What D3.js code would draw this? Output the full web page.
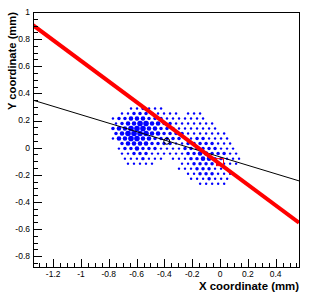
<!DOCTYPE html>
<html>
<head>
<meta charset="utf-8">
<script src="https://cdn.jsdelivr.net/npm/d3@7"></script>
<style>
  body { margin: 0; background: #fff; }
  text { font-family: "Liberation Sans", Arial, Helvetica, sans-serif; }
</style>
</head>
<body>
<svg id="chart" width="311" height="300"></svg>
<script>
// data (mm)
const xDomain = [-1.345, 0.568],
    yDomain = [-0.88, 1];
const xMajor = [-1.2, -1, -0.8, -0.6, -0.4, -0.2, 0, 0.2, 0.4],
    yMajor = [-0.8, -0.6, -0.4, -0.2, 0, 0.2, 0.4, 0.6, 0.8, 1];
const fitLine = [[-1.345, 0.903], [0.568, -0.553]];   // red
const trackLine = [[-1.345, 0.35], [0.568, -0.245]];  // black
const trackPoint = [-0.383, 0.047];
const fitPoint = [0, -0.107];
// pixel hits: each row has y, x of first hit, charge class per pixel (0 = empty)
const pixelPitch = 0.0432;
const hitRows = [
  {y: 0.289, x0: -0.640, s: [1,1,2,1,1,1]},
  {y: 0.252, x0: -0.705, s: [1,1,2,2,2,2,1,1,1,1,0,1,1,1]},
  {y: 0.215, x0: -0.770, s: [1,2,2,3,3,3,2,2,2,1,1,1,1,1,1,1]},
  {y: 0.178, x0: -0.748, s: [1,2,3,3,4,4,3,3,2,2,1,1,1,1,1,1,1]},
  {y: 0.141, x0: -0.770, s: [2,3,3,4,4,4,3,3,2,2,2,1,1,1,1,1,1,1]},
  {y: 0.104, x0: -0.748, s: [2,3,4,4,4,4,3,3,2,2,2,2,1,1,1,1,1,1,1]},
  {y: 0.067, x0: -0.770, s: [1,3,3,4,4,3,3,2,2,2,2,2,1,1,2,2,1,1,1,1]},
  {y: 0.030, x0: -0.705, s: [2,3,3,3,3,2,2,2,2,1,1,2,2,2,2,2,1,1,1]},
  {y: -0.007, x0: -0.727, s: [1,2,2,3,2,2,2,1,1,1,1,2,2,2,2,2,2,1,1,1]},
  {y: -0.044, x0: -0.705, s: [1,1,2,2,2,1,1,1,1,1,1,2,2,3,3,2,2,2,1,1]},
  {y: -0.081, x0: -0.684, s: [1,1,1,2,1,1,1,0,1,1,1,2,2,3,3,2,2,1,1,1]},
  {y: -0.118, x0: -0.662, s: [1,1,1,1,1,0,0,0,0,1,1,2,2,2,2,2,1,1,1]},
  {y: -0.155, x0: -0.295, s: [1,1,1,2,2,2,1,1,1]},
  {y: -0.192, x0: -0.230, s: [1,1,2,2,2,1,1,1]},
  {y: -0.229, x0: -0.208, s: [1,1,1,2,1,1,1]},
  {y: -0.266, x0: -0.143, s: [1,1,1,1,1]}
];

// layout
const svg = d3.select("#chart"),
    margin = {left: 33, right: 12, top: 12, bottom: 33},
    width = +svg.attr("width"),
    height = +svg.attr("height"),
    x0 = margin.left, x1 = width - margin.right,
    y0 = height - margin.bottom, y1 = margin.top;

const x = d3.scaleLinear().domain(xDomain).range([x0, x1]),
    y = d3.scaleLinear().domain(yDomain).range([y0, y1]),
    r = d3.scaleLinear().domain([1, 4]).range([1.2, 2.8]);

svg.append("defs").append("clipPath").attr("id", "frame-clip")
  .append("rect").attr("x", x0).attr("y", y1).attr("width", x1 - x0).attr("height", y0 - y1);

const plot = svg.append("g").attr("clip-path", "url(#frame-clip)");

// hits
const hits = [];
hitRows.forEach(function(row) {
  row.s.forEach(function(s, i) {
    if (s > 0) hits.push({x: row.x0 + i * pixelPitch, y: row.y, s: s});
  });
});
plot.append("g").selectAll("circle")
    .data(hits)
  .enter().append("circle")
    .attr("cx", function(d) { return x(d.x); })
    .attr("cy", function(d) { return y(d.y); })
    .attr("r", function(d) { return r(d.s); })
    .style("fill", "#0000ff");

const line = d3.line().x(function(d) { return x(d[0]); }).y(function(d) { return y(d[1]); });

plot.append("path").attr("d", line(trackLine))
    .style("fill", "none").style("stroke", "#000").style("stroke-width", 1);

plot.append("path").attr("d", line(fitLine))
    .style("fill", "none").style("stroke", "#ff0000").style("stroke-width", 4);

plot.append("circle")
    .attr("cx", x(trackPoint[0])).attr("cy", y(trackPoint[1])).attr("r", 3)
    .style("fill", "none").style("stroke", "#000").style("stroke-width", 1);

plot.append("rect")
    .attr("x", x(fitPoint[0]) - 3.5).attr("y", y(fitPoint[1]) - 3.5)
    .attr("width", 7).attr("height", 7)
    .style("fill", "none").style("stroke", "#ff0000").style("stroke-width", 1);

// ticks (inside the frame)
const xMinor = d3.range(-1.3, 0.57, 0.05).filter(function(v) {
  return !xMajor.some(function(m) { return Math.abs(m - v) < 1e-6; });
});
const yMinor = d3.range(-0.85, 0.99, 0.05).filter(function(v) {
  return !yMajor.some(function(m) { return Math.abs(m - v) < 1e-6; });
});

const ticks = svg.append("g").style("stroke", "#000").style("stroke-width", 1);
ticks.selectAll(".xt").data(xMajor.map(function(v) { return {v: v, l: 8}; })
    .concat(xMinor.map(function(v) { return {v: v, l: 4}; })))
  .enter().append("line")
    .attr("x1", function(d) { return Math.round(x(d.v)) + 0.5; })
    .attr("x2", function(d) { return Math.round(x(d.v)) + 0.5; })
    .attr("y1", y0).attr("y2", function(d) { return y0 - d.l; });
ticks.selectAll(".yt").data(yMajor.map(function(v) { return {v: v, l: 9}; })
    .concat(yMinor.map(function(v) { return {v: v, l: 5}; })))
  .enter().append("line")
    .attr("y1", function(d) { return Math.round(y(d.v)) + 0.5; })
    .attr("y2", function(d) { return Math.round(y(d.v)) + 0.5; })
    .attr("x1", x0).attr("x2", function(d) { return x0 + d.l; });

// frame
svg.append("rect")
    .attr("x", x0 + 0.5).attr("y", y1 + 0.5)
    .attr("width", x1 - x0).attr("height", y0 - y1)
    .style("fill", "none").style("stroke", "#000").style("stroke-width", 1);

// tick labels
const fmt = function(v) { return String(+v.toFixed(2)); };
svg.append("g").selectAll("text")
    .data(xMajor)
  .enter().append("text")
    .attr("x", function(d) { return x(d); })
    .attr("y", y0 + 10)
    .attr("text-anchor", "middle")
    .style("font-size", "8.5px")
    .style("fill", "#000")
    .text(fmt);
svg.append("g").selectAll("text")
    .data(yMajor)
  .enter().append("text")
    .attr("x", x0 - 3)
    .attr("y", function(d) { return y(d); })
    .attr("dy", "0.35em")
    .attr("text-anchor", "end")
    .style("font-size", "8.5px")
    .style("fill", "#000")
    .text(fmt);

// axis titles
svg.append("text")
    .attr("x", x1).attr("y", 290)
    .attr("text-anchor", "end")
    .style("font-size", "11.4px").style("font-weight", "bold")
    .text("X coordinate (mm)");
svg.append("text")
    .attr("transform", "translate(15.5," + y1 + ") rotate(-90)")
    .attr("text-anchor", "end")
    .style("font-size", "11.2px").style("font-weight", "bold")
    .text("Y coordinate (mm)");
</script>
</body>
</html>
